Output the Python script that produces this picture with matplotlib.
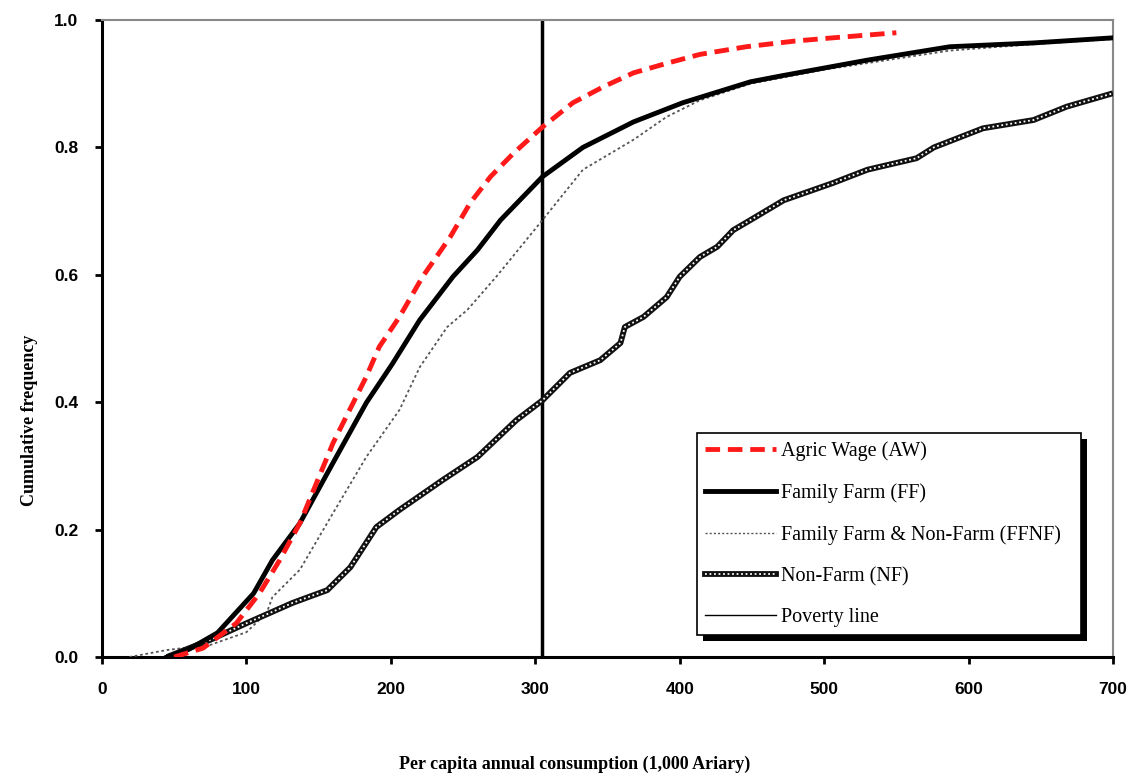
import matplotlib
matplotlib.use("Agg")
import matplotlib.pyplot as plt
from matplotlib.lines import Line2D
from matplotlib.legend_handler import HandlerTuple
from matplotlib.patches import Rectangle

# Data
aw_x = [50, 70, 93, 109, 123, 137, 160, 183, 192, 206, 222, 241, 255, 269, 285, 305, 326, 347, 368, 391, 414, 446, 480, 506, 550]
aw_y = [0.0, 0.014, 0.053, 0.10, 0.152, 0.21, 0.336, 0.44, 0.487, 0.534, 0.597, 0.659, 0.713, 0.754, 0.791, 0.832, 0.870, 0.895, 0.917, 0.932, 0.946, 0.958, 0.967, 0.972, 0.98]

ff_x = [45, 60, 80, 105, 118, 137, 160, 183, 201, 220, 243, 260, 276, 305, 333, 368, 402, 449, 472, 530, 587, 645, 700]
ff_y = [0.0, 0.012, 0.038, 0.10, 0.152, 0.21, 0.305, 0.399, 0.46, 0.529, 0.597, 0.639, 0.686, 0.754, 0.80, 0.84, 0.87, 0.903, 0.913, 0.937, 0.958, 0.964, 0.972]

ffnf_x = [19, 45, 75, 100, 114, 118, 137, 160, 183, 206, 220, 239, 253, 273, 305, 333, 368, 391, 414, 449, 500, 587, 645, 700]
ffnf_y = [0.0, 0.011, 0.019, 0.039, 0.069, 0.094, 0.137, 0.226, 0.314, 0.388, 0.455, 0.518, 0.545, 0.597, 0.686, 0.765, 0.812, 0.848, 0.874, 0.90, 0.922, 0.952, 0.962, 0.97]

nf_x = [45, 75, 100, 132, 156, 172, 190, 206, 236, 260, 287, 305, 324, 345, 359, 362, 375, 391, 400, 414, 426, 437, 449, 472, 506, 530, 564, 576, 610, 645, 668, 700]
nf_y = [0.0, 0.027, 0.053, 0.085, 0.105, 0.141, 0.204, 0.231, 0.278, 0.314, 0.372, 0.403, 0.446, 0.466, 0.493, 0.518, 0.534, 0.565, 0.597, 0.628, 0.644, 0.670, 0.686, 0.717, 0.744, 0.765, 0.783, 0.80, 0.830, 0.843, 0.864, 0.885]

poverty_line = 305

x_ticks = [0, 100, 200, 300, 400, 500, 600, 700]
y_ticks = [0.0, 0.2, 0.4, 0.6, 0.8, 1.0]
labels = ["Agric Wage (AW)", "Family Farm (FF)", "Family Farm & Non-Farm (FFNF)", "Non-Farm (NF)", "Poverty line"]

tick_font = ["Liberation Sans Narrow", "Liberation Sans"]

fig = plt.figure(figsize=(11.28, 7.78), dpi=100)
ax = fig.add_axes([0.0904, 0.1555, 0.8963, 0.8188])

ax.plot(ffnf_x, ffnf_y, color="#555555", lw=1.3, ls=(0, (1.5, 1.5)), zorder=3)
ax.plot(nf_x, nf_y, color="#111111", lw=4.2, solid_capstyle="butt", zorder=3)
ax.plot(nf_x, nf_y, color="white", lw=1.3, ls=(0, (1, 1.5)), zorder=4)
ax.plot(ff_x, ff_y, color="black", lw=3.5, zorder=5)
ax.plot(aw_x, aw_y, color="#ff1a1a", lw=3.5, ls=(0, (3, 1.6)), zorder=6)
ax.axvline(poverty_line, color="black", lw=2.5, zorder=2)

ax.set_xlim(0, 700)
ax.set_ylim(0, 1.0)
ax.set_xticks(x_ticks)
ax.set_yticks(y_ticks)
ax.set_xticklabels([str(t) for t in x_ticks], fontfamily=tick_font, fontweight="bold", fontsize=12.5)
ax.set_yticklabels([f"{t:.1f}" for t in y_ticks], fontfamily=tick_font, fontweight="bold", fontsize=12.5)
ax.tick_params(axis="x", direction="out", length=5, width=2, pad=13)
ax.tick_params(axis="y", direction="out", length=5, width=2, pad=12)
for s in ["left", "bottom"]:
    ax.spines[s].set_linewidth(2.2)
    ax.spines[s].set_color("black")
for s in ["top", "right"]:
    ax.spines[s].set_linewidth(1.5)
    ax.spines[s].set_color("#888888")

fig.text(575 / 1128, 1 - 764 / 778, "Per capita annual consumption (1,000 Ariary)", fontfamily="Liberation Serif",
         fontweight="bold", fontsize=13, ha="center", va="center")
fig.text(30 / 1128, 1 - 420 / 778, "Cumulative frequency", fontfamily="Liberation Serif",
         fontweight="bold", fontsize=13, ha="center", va="center", rotation=90)

h_aw = Line2D([], [], color="#ff1a1a", lw=3.5, ls=(0, (3, 1.6)))
h_ff = Line2D([], [], color="black", lw=3.5)
h_ffnf = Line2D([], [], color="#555555", lw=1.0, ls=(0, (1.5, 1.5)))
h_nf = (Line2D([], [], color="#111111", lw=4.2), Line2D([], [], color="white", lw=1.3, ls=(0, (1, 1.5))))
h_pl = Line2D([], [], color="black", lw=1.0)

leg = ax.legend([h_aw, h_ff, h_ffnf, h_nf, h_pl], labels,
                handler_map={tuple: HandlerTuple(ndivide=1, pad=0)},
                loc="upper left", bbox_to_anchor=(0.5885, 0.0, 0.38, 0.3516), mode="expand",
                borderaxespad=0, prop={"family": "Liberation Serif", "size": 14.5},
                frameon=True, fancybox=False, shadow=False, edgecolor="black", framealpha=1,
                borderpad=0.4, labelspacing=1.1, handlelength=3.5, handletextpad=0.25)
leg.get_frame().set_linewidth(1.2)
leg.set_zorder(10)

fig.canvas.draw()
bb = leg.get_window_extent()
inv = fig.transFigure.inverted()
(x0, y0), (x1, y1) = inv.transform([[bb.x0 + 6, bb.y0 - 6], [bb.x1 + 6, bb.y1 - 6]])
shadow = Rectangle((x0, y0), x1 - x0, y1 - y0, transform=fig.transFigure,
                   facecolor="black", edgecolor="none", zorder=9)
ax.add_artist(shadow)
shadow.set_clip_on(False)

fig.savefig("out.png", dpi=100)
